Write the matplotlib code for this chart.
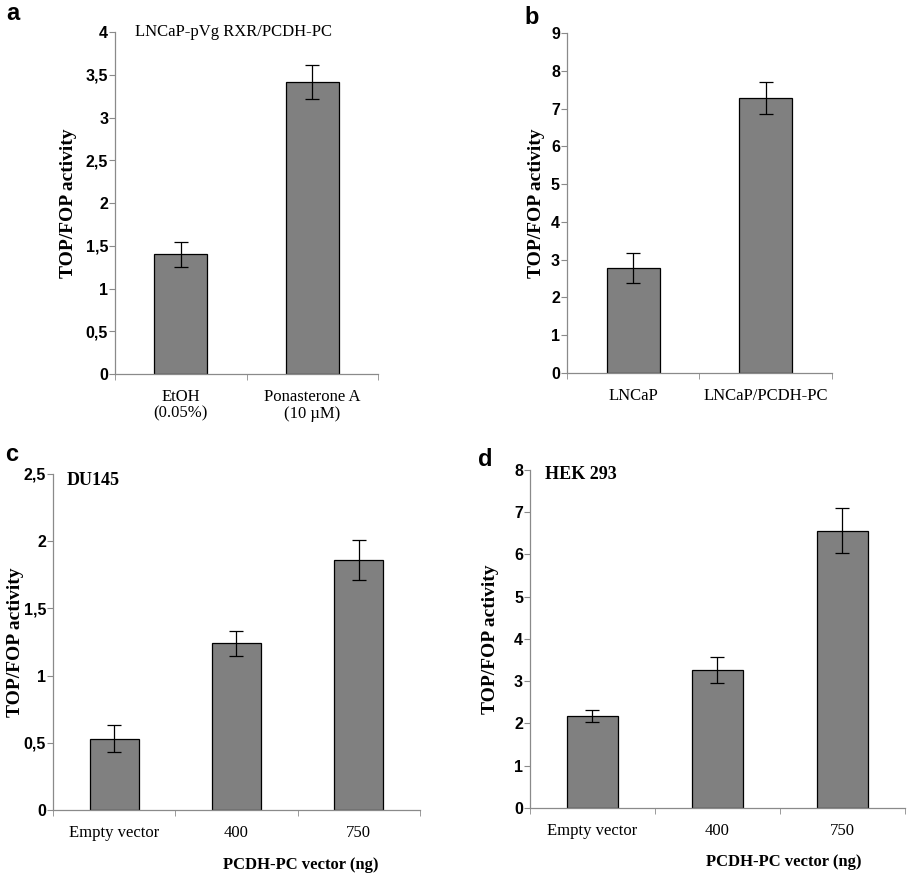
import matplotlib
matplotlib.use('Agg')
import matplotlib.pyplot as plt
import numpy as np

# panel a
a_labels = ['EtOH\n(0.05%)', 'Ponasterone A\n(10 \u00b5M)']
a_vals = [1.40, 3.42]
a_err = [0.15, 0.20]

# panel b
b_labels = ['LNCaP', 'LNCaP/PCDH-PC']
b_vals = [2.78, 7.28]
b_err = [0.40, 0.42]

# panel c
c_labels = ['Empty vector', '400', '750']
c_vals = [0.53, 1.24, 1.86]
c_err = [0.10, 0.095, 0.15]

# panel d
d_labels = ['Empty vector', '400', '750']
d_vals = [2.18, 3.27, 6.56]
d_err = [0.14, 0.31, 0.53]

a_ticks = [0, 0.5, 1, 1.5, 2, 2.5, 3, 3.5, 4]
a_ticklabels = ['0', '0,5', '1', '1,5', '2', '2,5', '3', '3,5', '4']
b_ticks = list(range(0, 10))
c_ticks = [0, 0.5, 1, 1.5, 2, 2.5]
c_ticklabels = ['0', '0,5', '1', '1,5', '2', '2,5']
d_ticks = list(range(0, 9))

serif = 'Liberation Serif'
sans = 'Liberation Sans'
axcol = '#8a8a8a'

fig = plt.figure(figsize=(9.1, 8.81), dpi=100)


def panel(rect, labels, vals, err, ticks, ticklabels, ymax, width, ylab_x):
    ax = fig.add_axes(rect)
    x = np.arange(len(vals))
    ax.bar(x, vals, width=width, color='#808080', edgecolor='black', linewidth=0.9,
           yerr=err, capsize=5, error_kw=dict(ecolor='black', elinewidth=0.9, capthick=0.9))
    ax.set_xlim(-0.5, len(vals) - 0.5)
    ax.set_ylim(0, ymax)
    for s in ['top', 'right']:
        ax.spines[s].set_visible(False)
    for s in ['left', 'bottom']:
        ax.spines[s].set_color(axcol)
        ax.spines[s].set_linewidth(0.9)
    ax.set_yticks(ticks)
    ax.set_yticklabels(ticklabels, fontfamily=sans, fontweight='bold', fontsize=11.5)
    ax.tick_params(axis='y', length=4, color=axcol, pad=1)
    ax.set_xticks(x)
    ax.set_xticklabels(labels, fontfamily=serif, fontsize=12, linespacing=1.05)
    ax.tick_params(axis='x', length=0, pad=11)
    ax.set_xticks(np.arange(len(vals) + 1) - 0.5, minor=True)
    ax.tick_params(axis='x', which='minor', length=4, color=axcol)
    ax.set_ylabel('TOP/FOP activity', fontfamily=serif, fontweight='bold', fontsize=14)
    ax.yaxis.set_label_coords(ylab_x, 0.5)
    return ax


ax1 = panel([0.1264, 0.5755, 0.289, 0.388], a_labels, a_vals, a_err,
            a_ticks, a_ticklabels, 4, 0.4, -0.145)
ax1.text(0.076, 1.0, 'LNCaP-pVg RXR/PCDH-PC', transform=ax1.transAxes,
         fontfamily=serif, fontsize=12, va='center', ha='left')

ax2 = panel([0.623, 0.5766, 0.291, 0.3859], b_labels, b_vals, b_err,
            b_ticks, [str(t) for t in b_ticks], 9, 0.4, -0.083)

ax3 = panel([0.0582, 0.0806, 0.4033, 0.3814], c_labels, c_vals, c_err,
            c_ticks, c_ticklabels, 2.5, 0.4, -0.079)
ax3.text(0.038, 0.982, 'DU145', transform=ax3.transAxes,
         fontfamily=serif, fontweight='bold', fontsize=13, va='center', ha='left')
ax3.text(0.676, -0.164, 'PCDH-PC vector (ng)', transform=ax3.transAxes,
         fontfamily=serif, fontweight='bold', fontsize=12, va='center', ha='center')

ax4 = panel([0.5824, 0.0829, 0.412, 0.3837], d_labels, d_vals, d_err,
            d_ticks, [str(t) for t in d_ticks], 8, 0.41, -0.082)
ax4.text(0.04, 0.985, 'HEK 293', transform=ax4.transAxes,
         fontfamily=serif, fontweight='bold', fontsize=13, va='center', ha='left')
ax4.text(0.677, -0.16, 'PCDH-PC vector (ng)', transform=ax4.transAxes,
         fontfamily=serif, fontweight='bold', fontsize=12, va='center', ha='center')

for lab, px, py in [('a', 13, 14), ('b', 532, 17), ('c', 12, 455), ('d', 485, 460)]:
    fig.text(px / 910, 1 - py / 881, lab, fontfamily=sans, fontweight='bold',
             fontsize=17, va='center', ha='center')

fig.savefig('out.png', dpi=100)
